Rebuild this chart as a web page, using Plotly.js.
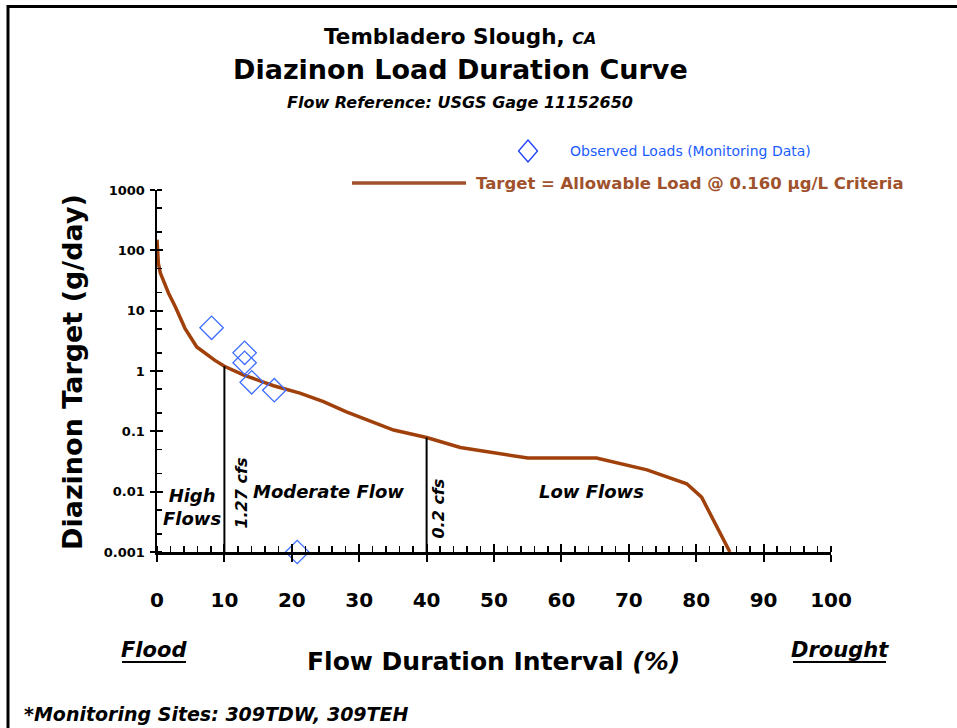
<!DOCTYPE html>
<html><head><meta charset="utf-8">
<script src="https://cdn.plot.ly/plotly-3.0.1.min.js"></script>
<style>html,body{margin:0;padding:0;background:#fff}#chart{width:957px;height:728px}</style>
</head><body><div id="chart"></div>
<script>
// ---- data ----
const flowPct = [0, 0.2, 0.5, 1.7, 2.7, 4.15, 5.9, 8.6, 10, 12.8, 17.3, 21.2, 24.7, 28.1, 35.1, 40, 45, 50.9, 55, 65.2, 72.7, 78.6, 80.8, 85];
const targetLoad = [150, 61, 42, 19.6, 11.7, 5.1, 2.5, 1.5, 1.2, 0.86, 0.57, 0.43, 0.31, 0.21, 0.105, 0.079, 0.054, 0.043, 0.036, 0.036, 0.023, 0.0135, 0.0081, 0.001];
const obsPct = [8.1, 13.0, 13.0, 14.05, 17.4, 20.8];
const obsLoad = [5.2, 2.0, 1.37, 0.65, 0.48, 0.001];
const cutPct = [10, 40];
const cutTop = [1.2, 0.079];
const cutBottom = 0.001;
const cutLabels = ['1.27 cfs', '0.2 cfs'];
const xTickVals = [0,10,20,30,40,50,60,70,80,90,100];
const yTickVals = [0.001,0.01,0.1,1,10,100,1000];
const yTickText = ['0.001','0.01','0.1','1','10','100','1000'];

// ---- layout helpers ----
const L = 157, R = 831, T = 190, B = 552, W = 957, H = 728;
const px = x => (x - L) / (R - L);
const py = y => (B - y) / (B - T);
const FONT = 'DejaVu Sans, Verdana, sans-serif';
const brown = '#a0400a';
const legendBrown = '#a0522d';
const blue = '#3d6cff';

const traces = [
  {x: flowPct, y: targetLoad, type: 'scatter', mode: 'lines',
   line: {color: brown, width: 3.5}, hoverinfo: 'skip', cliponaxis: false},
  {x: obsPct, y: obsLoad, type: 'scatter', mode: 'markers',
   marker: {symbol: 'diamond-open', size: 18, color: blue, line: {width: 1.3, color: blue}},
   cliponaxis: false}
];
cutPct.forEach((c, i) => traces.push({x: [c, c], y: [cutBottom, cutTop[i]], type: 'scatter', mode: 'lines',
  line: {color: '#000', width: 2}, hoverinfo: 'skip'}));
// invisible trace to activate overlay axes
traces.push({x: [0], y: [1], xaxis: 'x2', yaxis: 'y2', mode: 'markers', marker: {opacity: 0}, hoverinfo: 'skip'});

const ann = [];
function A(text, x, y, size, opts) {
  ann.push(Object.assign({text, x: px(x), y: py(y), xref: 'paper', yref: 'paper', showarrow: false,
    font: {family: FONT, size, color: '#000'}, xanchor: 'center', yanchor: 'middle'}, opts || {}));
}
A("<b>Tembladero Slough, <span style='font-size:16px'><i>CA</i></span></b>", 460, 36, 21.5);
A('<b>Diazinon Load Duration Curve</b>', 460, 70, 27);
A('<b><i>Flow Reference: USGS Gage 11152650</i></b>', 460, 103, 16);
A('Observed Loads (Monitoring Data)', 568, 151, 14, {xanchor: 'left', font: {family: FONT, size: 14, color: '#1a5cff'}});
A('<b>Target = Allowable Load @ 0.160 µg/L Criteria</b>', 474, 184, 16.5, {xanchor: 'left', font: {family: FONT, size: 16.5, color: legendBrown}});
A('<b>Diazinon Target (g/day)</b>', 72, 372, 27, {textangle: -90});
A('<b>Flow Duration Interval <i>(%)</i></b>', 493, 661, 25);
A('<b><i>Flood</i></b>', 154, 650, 21);
A('<b><i>Drought</i></b>', 840, 650, 21);
A('<b><i>*Monitoring Sites: 309TDW, 309TEH</i></b>', 22, 714, 19, {xanchor: 'left'});
// in-plot zone labels (data coords)
function D(text, x, yv, size, opts) {
  ann.push(Object.assign({text, x, y: Math.log10(yv), xref: 'x', yref: 'y', showarrow: false,
    font: {family: FONT, size, color: '#000'}, xanchor: 'center', yanchor: 'middle'}, opts || {}));
}
D('<b><i>High<br>Flows</i></b>', 5.2, 0.0056, 18);
D('<b><i>Moderate Flow</i></b>', 25.5, 0.01, 18);
D('<b><i>Low Flows</i></b>', 64.5, 0.01, 18);
D('<b><i>' + cutLabels[0] + '</i></b>', 12.4, 0.0095, 16, {textangle: -90});
D('<b><i>' + cutLabels[1] + '</i></b>', 41.8, 0.0052, 16, {textangle: -90});

const dx = 9.5, dy = 11, cx = 528, cy = 151;
const shapes = [
  // frame
  {type: 'line', xref: 'paper', yref: 'paper', x0: px(7), x1: px(W), y0: py(6.5), y1: py(6.5), line: {color: '#000', width: 3}},
  {type: 'line', xref: 'paper', yref: 'paper', x0: px(8), x1: px(8), y0: py(5), y1: py(H), line: {color: '#000', width: 3}},
  // legend samples
  {type: 'path', xref: 'paper', yref: 'paper',
   path: `M ${px(cx)} ${py(cy-dy)} L ${px(cx+dx)} ${py(cy)} L ${px(cx)} ${py(cy+dy)} L ${px(cx-dx)} ${py(cy)} Z`,
   line: {color: '#1a3cff', width: 1.3}},
  {type: 'line', xref: 'paper', yref: 'paper', x0: px(352), x1: px(466), y0: py(183), y1: py(183), line: {color: legendBrown, width: 3.5}},
  // underlines
  {type: 'line', xref: 'paper', yref: 'paper', x0: px(122), x1: px(186), y0: py(662), y1: py(662), line: {color: '#000', width: 2}},
  {type: 'line', xref: 'paper', yref: 'paper', x0: px(793), x1: px(886), y0: py(662), y1: py(662), line: {color: '#000', width: 2}}
];

const layout = {
  width: W, height: H, margin: {l: L, r: W - R, t: T, b: H - B},
  paper_bgcolor: '#fff', plot_bgcolor: '#fff', showlegend: false,
  xaxis: {range: [0, 100], tickvals: xTickVals, ticks: 'outside', ticklen: 7, tickwidth: 2, tickcolor: '#000',
    showline: true, linecolor: '#000', linewidth: 2.5, showgrid: false, zeroline: false,
    ticklabelstandoff: 21, tickfont: {family: FONT, size: 20, color: '#000', weight: 'bold'},
    minor: {dtick: 2, ticks: 'inside', ticklen: 6, tickwidth: 1.5, tickcolor: '#000', showgrid: false}},
  yaxis: {type: 'log', range: [-3, 3], tickvals: yTickVals, ticktext: yTickText, ticks: 'outside', ticklen: 5, tickwidth: 2, tickcolor: '#000',
    showline: true, linecolor: '#000', linewidth: 2.5, showgrid: false, zeroline: false,
    ticklabelstandoff: 2, tickfont: {family: FONT, size: 13, color: '#000', weight: 'bold'},
    minor: {ticks: 'inside', ticklen: 5, tickwidth: 1.5, tickcolor: '#000', showgrid: false}},
  xaxis2: {overlaying: 'x', range: [0, 100], tickvals: xTickVals, ticks: 'inside', ticklen: 8, tickwidth: 2, tickcolor: '#000',
    showticklabels: false, showgrid: false, zeroline: false, showline: false, side: 'bottom'},
  yaxis2: {overlaying: 'y', type: 'log', range: [-3, 3], tickvals: yTickVals, ticks: 'inside', ticklen: 6, tickwidth: 2, tickcolor: '#000',
    showticklabels: false, showgrid: false, zeroline: false, showline: false, side: 'left'},
  annotations: ann, shapes: shapes
};
Plotly.newPlot('chart', traces, layout, {staticPlot: true});
</script></body></html>
